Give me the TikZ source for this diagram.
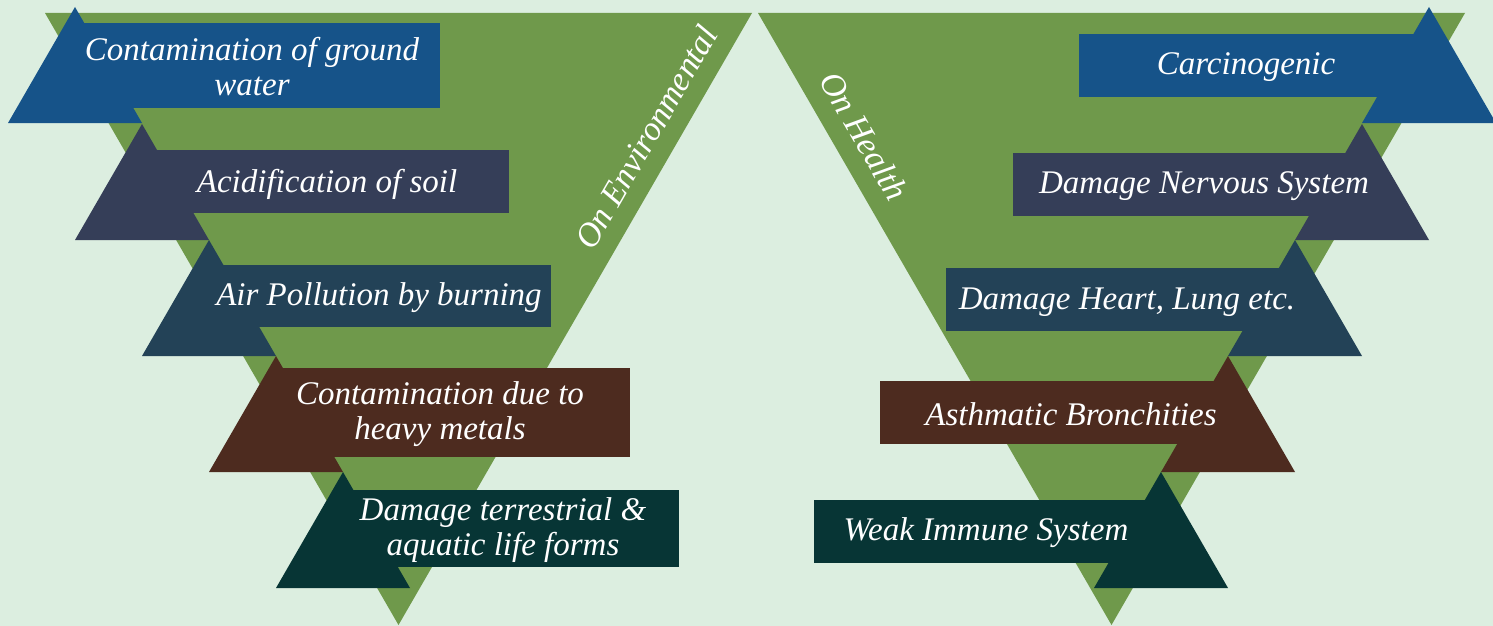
\documentclass[tikz,border=0pt]{standalone}
\usepackage{fontspec}
\setmainfont{Liberation Serif}
\definecolor{bg}{HTML}{DCEEE0}
\definecolor{leaf}{HTML}{6F994B}
\definecolor{cblue}{HTML}{165389}
\definecolor{cslate}{HTML}{353E58}
\definecolor{cnavy}{HTML}{234257}
\definecolor{cbrown}{HTML}{4D2B1F}
\definecolor{cteal}{HTML}{073535}
% left ribbon: apex x, apex y, rect top, rect bottom, rect right, colour
\newcommand\lribbon[6]{%
  \fill[#6] (#1,#2) -- ++(-67,116) -- ++(134,0) -- cycle;
  \fill[#6] (#1,#3) rectangle (#5,#4);}
% right ribbon: apex x, apex y, rect top, rect bottom, rect left, colour
\newcommand\rribbon[6]{%
  \fill[#6] (#1,#2) -- ++(-67,116) -- ++(134,0) -- cycle;
  \fill[#6] (#5,#3) rectangle (#1,#4);}
\begin{document}
\begin{tikzpicture}[x=1pt,y=-1pt,
  lbl/.style={text=white,font=\fontsize{33}{35}\selectfont\itshape,align=center,inner sep=0pt},
  side/.style={text=white,font=\fontsize{34}{36}\selectfont\itshape,inner sep=0pt}]
\fill[bg] (0,0) rectangle (1493,626);
\useasboundingbox (0,0) rectangle (1493,626);
% big triangles
\fill[leaf] (45,13) -- (752,13) -- (398.5,625) -- cycle;
\fill[leaf] (758,13) -- (1465,13) -- (1111.5,625) -- cycle;
% left ribbons
\lribbon{75}{7}{23}{108}{440}{cblue}
\lribbon{142}{124}{150}{213}{509}{cslate}
\lribbon{209}{240}{265}{327}{551}{cnavy}
\lribbon{276}{356}{368}{457}{630}{cbrown}
\lribbon{343}{472}{490}{567}{679}{cteal}
% right ribbons
\rribbon{1429}{7}{34}{97}{1079}{cblue}
\rribbon{1362}{124}{153}{216}{1013}{cslate}
\rribbon{1295}{240}{268}{331}{946}{cnavy}
\rribbon{1228}{356}{381}{444}{880}{cbrown}
\rribbon{1161}{472}{500}{563}{814}{cteal}
% labels
\node[lbl] (l1) at (252,67) {Contamination of ground\\water};
\node[lbl] (l2) at (327,184) {Acidification of soil};
\node[lbl] (l3) at (379,298) {Air Pollution by burning};
\node[lbl] (l4) at (440,414) {Contamination due to\\heavy metals};
\node[lbl] (l5) at (503,530) {Damage terrestrial \&\\aquatic life forms};
\node[lbl] (r1) at (1246,67) {Carcinogenic};
\node[lbl] (r2) at (1204,186) {Damage Nervous System};
\node[lbl] (r3) at (1127,302) {Damage Heart, Lung etc.};
\node[lbl] (r4) at (1071,414) {Asthmatic Bronchities};
\node[lbl] (r5) at (986,533) {Weak Immune System};
\node[side,rotate=60] (env) at (646,137) {On Environmental};
\node[side,rotate=-60] (health) at (864,136) {On Health};
\end{tikzpicture}
\end{document}
